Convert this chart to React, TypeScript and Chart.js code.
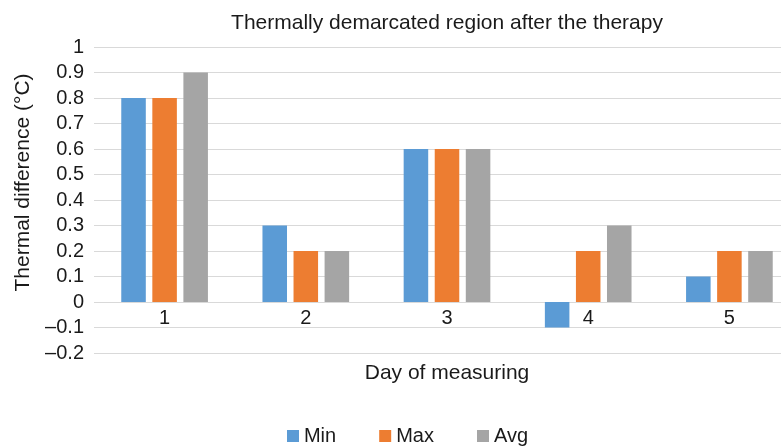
import React, { useEffect, useRef } from "react";
import { Chart, registerables } from "chart.js";

Chart.register(...registerables);

const TITLE = "Thermally demarcated region after the therapy";
const Y_TITLE = "Thermal difference (\u00B0C)";
const X_TITLE = "Day of measuring";
const categories = ["1", "2", "3", "4", "5"];
const minValues = [0.8, 0.3, 0.6, -0.1, 0.1];
const maxValues = [0.8, 0.2, 0.6, 0.2, 0.2];
const avgValues = [0.9, 0.2, 0.6, 0.3, 0.2];
const seriesNames = ["Min", "Max", "Avg"];
const seriesColors = ["#5B9BD5", "#ED7D31", "#A5A5A5"];
const yMin = -0.2;
const yMax = 1;
const yStep = 0.1;

const FONT = '"Liberation Sans", Arial, sans-serif';
const TEXT = "#1a1a1a";
const SHIFT = 22; // canvas is shifted left inside the frame

const yTitlePlugin = {
  id: "yTitle",
  afterDraw(chart: any) {
    const ctx = chart.ctx;
    ctx.save();
    ctx.font = `21px ${FONT}`;
    ctx.fillStyle = TEXT;
    ctx.translate(23.5 + SHIFT, 182.5);
    ctx.rotate(-Math.PI / 2);
    ctx.textAlign = "center";
    ctx.textBaseline = "middle";
    ctx.fillText(Y_TITLE, 0, 0);
    ctx.restore();
  },
};

function makeMarker(color: string): HTMLCanvasElement {
  const c = document.createElement("canvas");
  c.width = 56;
  c.height = 12;
  const g = c.getContext("2d");
  if (g) {
    g.fillStyle = color;
    g.fillRect(43, 0, 12, 12);
  }
  return c;
}

export default function App() {
  const ref = useRef<HTMLCanvasElement | null>(null);
  useEffect(() => {
    document.body.style.margin = "0";
    if (!ref.current) return;
    const values = [minValues, maxValues, avgValues];
    const markers = seriesColors.map(makeMarker);
    const chart = new Chart(ref.current, {
      type: "bar",
      data: {
        labels: categories,
        datasets: values.map((v, i) => ({
          label: seriesNames[i],
          data: v,
          backgroundColor: seriesColors[i],
          borderWidth: 0,
          xAxisID: "x",
          yAxisID: "y",
          categoryPercentage: 0.66,
          barPercentage: 0.79,
        })),
      },
      plugins: [yTitlePlugin],
      options: {
        responsive: false,
        animation: false,
        color: TEXT,
        font: { family: FONT },
        layout: { padding: { left: 0, right: 12, top: 0, bottom: 0 } },
        plugins: {
          title: {
            display: true,
            text: TITLE,
            fullSize: false,
            color: TEXT,
            font: { family: FONT, size: 21, weight: "normal" },
            padding: { top: 10.4, bottom: 11.4 },
          },
          legend: {
            position: "bottom",
            maxHeight: 27,
            labels: {
              color: TEXT,
              font: { family: FONT, size: 20 },
              usePointStyle: true,
              pointStyleWidth: 44,
              boxWidth: 44,
              boxHeight: 12,
              padding: 6,
              generateLabels: (c: any) => {
                const items = (Chart as any).defaults.plugins.legend.labels.generateLabels(c);
                return items.map((it: any, i: number) => ({ ...it, pointStyle: markers[i % markers.length] }));
              },
            },
          },
          tooltip: { enabled: false },
        },
        scales: {
          x: {
            type: "category",
            position: { y: 0 },
            grid: { display: false, drawTicks: false },
            border: { display: false },
            ticks: {
              color: TEXT,
              font: { family: FONT, size: 20 },
              padding: 4,
            },
          },
          x2: {
            type: "category",
            position: "bottom",
            grid: { display: false, drawTicks: false },
            border: { display: false },
            ticks: { display: false },
            title: {
              display: true,
              text: X_TITLE,
              color: TEXT,
              font: { family: FONT, size: 21 },
              padding: { top: 0, bottom: 34.4 },
            },
            afterFit: (s: any) => {
              s.height = 67;
            },
          },
          y: {
            min: yMin,
            max: yMax,
            grid: { color: "#d9d9d9", lineWidth: 1, drawTicks: false },
            border: { display: false },
            ticks: {
              stepSize: yStep,
              autoSkip: false,
              color: TEXT,
              font: { family: FONT, size: 20 },
              padding: 10,
              callback: (v: any) => {
                const r = Math.round(Number(v) * 10) / 10;
                return r < 0 ? "\u2013" + String(-r) : String(r === 0 ? 0 : r);
              },
            },
            afterFit: (s: any) => {
              s.width = 94 + SHIFT;
            },
          },
        },
      } as any,
    });
    return () => chart.destroy();
  }, []);
  return (
    <div
      style={{
        position: "relative",
        width: 781,
        height: 447,
        overflow: "hidden",
        background: "#fff",
      }}
    >
      <canvas
        ref={ref}
        width={834}
        height={447}
        style={{ position: "absolute", left: -SHIFT, top: 0, width: 834, height: 447, display: "block" }}
      />
    </div>
  );
}
